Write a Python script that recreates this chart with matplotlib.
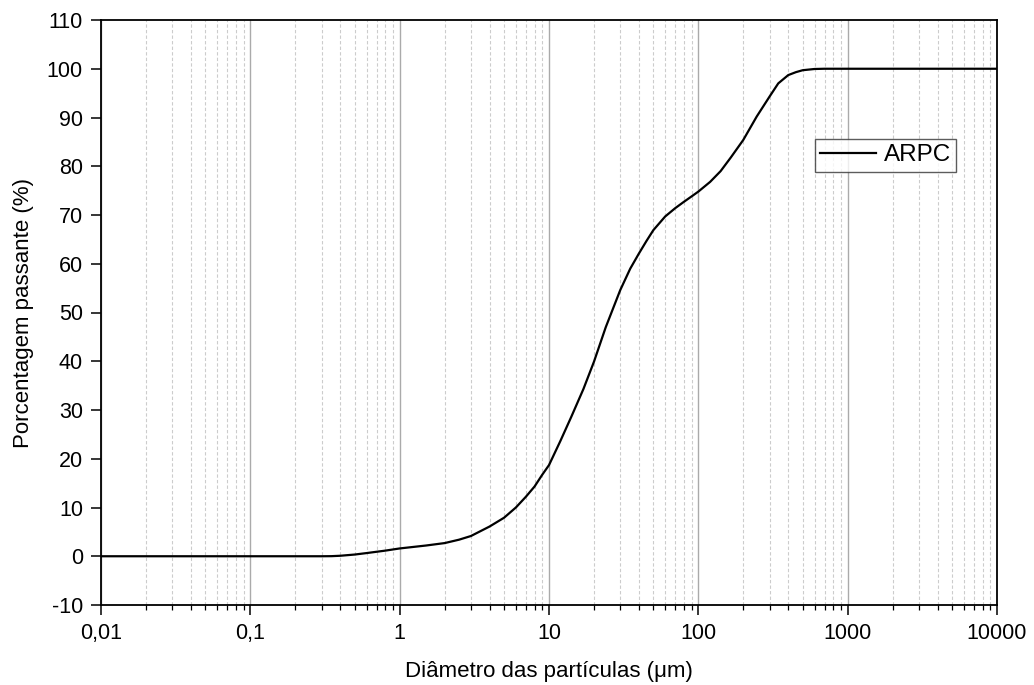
import matplotlib
matplotlib.use("Agg")
import matplotlib.pyplot as plt
import numpy as np
from matplotlib.ticker import FixedLocator, LogLocator, NullFormatter

# Values
diameter_um = [0.01, 0.02, 0.05, 0.1, 0.2, 0.3, 0.35, 0.4, 0.5, 0.6, 0.8, 1, 1.5, 2,
               2.5, 3, 4, 5, 6, 7, 8, 9, 10, 11.9, 14.1, 17, 20, 24, 30, 35, 40, 45,
               50, 60, 70, 80, 90, 100, 120, 141, 165, 200, 246, 300, 343, 400, 450,
               500, 600, 700, 1000, 10000]
passing_pct = [0, 0, 0, 0, 0, 0, 0.02, 0.1, 0.35, 0.65, 1.15, 1.6, 2.2, 2.7,
               3.4, 4.15, 6.1, 7.9, 10.0, 12.2, 14.3, 16.7, 18.7, 23.6, 28.6, 34.3, 39.9, 47.0, 54.6, 59.0, 62.1, 64.7,
               66.9, 69.7, 71.4, 72.7, 73.8, 74.8, 76.8, 79.0, 81.8, 85.4, 90.2, 94.3, 97.0, 98.7, 99.3,
               99.7, 99.95, 100, 100, 100]

x_ticks = [0.01, 0.1, 1, 10, 100, 1000, 10000]
x_tick_labels = ["0,01", "0,1", "1", "10", "100", "1000", "10000"]
y_ticks = list(range(-10, 111, 10))

plt.rcParams.update({"font.family": ["Liberation Sans", "DejaVu Sans"], "font.size": 15.5,
                     "axes.unicode_minus": False})

fig = plt.figure(figsize=(10.34, 6.85), dpi=100)
ax = fig.add_axes([101 / 1034, 80 / 685, 896 / 1034, 585 / 685])

ax.plot(diameter_um, passing_pct, color="black", linewidth=1.6, label="ARPC")

ax.set_xscale("log")
ax.set_xlim(0.01, 10000)
ax.set_ylim(-10, 110)
ax.xaxis.set_major_locator(FixedLocator(x_ticks))
ax.set_xticks(x_ticks, x_tick_labels)
ax.xaxis.set_minor_locator(LogLocator(base=10, subs=np.arange(2, 10), numticks=100))
ax.xaxis.set_minor_formatter(NullFormatter())
ax.set_yticks(y_ticks)

ax.grid(axis="x", which="major", color="#aaaaaa", linewidth=1.0, linestyle="-")
ax.grid(axis="x", which="minor", color="#cccccc", linewidth=0.8, linestyle=(0, (3, 2)))
ax.set_axisbelow(True)

ax.tick_params(axis="both", which="major", direction="out", length=7, width=1.1,
               labelsize=15.5, pad=6)
ax.tick_params(axis="x", which="minor", direction="out", length=3.6, width=0.9)
for s in ax.spines.values():
    s.set_linewidth(1.3)

ax.set_xlabel("Diâmetro das partículas (\u03bcm)", fontsize=16, labelpad=12)
ax.set_ylabel("Porcentagem passante (%)", fontsize=16, labelpad=9)

leg = ax.legend(loc="upper left", bbox_to_anchor=((815 - 101) / 896, (605 - 139) / 585),
                frameon=True, fancybox=False, fontsize=17.5, handlelength=2.3,
                borderpad=0.22, handletextpad=0.3, borderaxespad=0)
leg.get_frame().set_edgecolor("#333333")
leg.get_frame().set_linewidth(1.0)

fig.savefig("out.png", dpi=100)
